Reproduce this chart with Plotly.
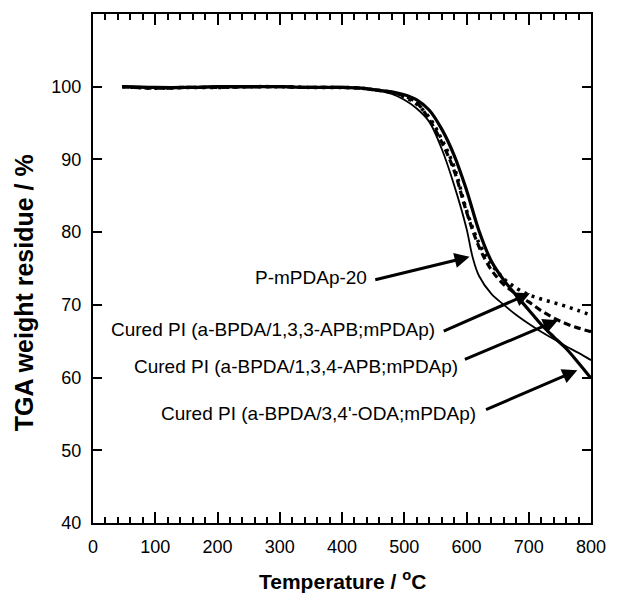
import plotly.graph_objects as go

# TGA weight residue (%) versus temperature (°C) for four polyimide samples
temp_p_mpdap = [47, 100, 150, 200, 250, 300, 350, 400, 430, 450, 480, 500, 520, 540, 560, 580, 600, 610,
                620, 640, 660, 680, 700, 720, 740, 760, 780, 800]
wt_p_mpdap = [100.0, 99.8, 99.8, 99.9, 99.9, 100.0, 99.9, 99.9, 99.8, 99.6, 99.0, 98.2, 97.0, 95.2, 91.5,
              86.5, 80.5, 76.5, 74.0, 71.5, 70.0, 68.6, 67.4, 66.3, 65.3, 64.3, 63.4, 62.4]

temp_133apb = [47, 100, 150, 200, 250, 300, 350, 400, 430, 450, 480, 500, 520, 540, 560, 580, 600, 620,
               640, 660, 680, 700, 720, 740, 760, 780, 800]
wt_133apb = [100.0, 99.8, 99.9, 99.9, 100.0, 100.0, 99.9, 99.9, 99.8, 99.6, 99.2, 98.6, 97.6, 95.8, 92.8,
             89.0, 83.0, 78.5, 75.6, 73.6, 72.3, 71.4, 70.8, 70.3, 69.8, 69.2, 68.6]

temp_134apb = [47, 100, 150, 200, 250, 300, 350, 400, 430, 450, 480, 500, 520, 540, 560, 580, 600, 620,
               640, 660, 680, 700, 720, 740, 760, 780, 800]
wt_134apb = [100.0, 99.8, 99.9, 99.9, 100.0, 100.0, 99.9, 99.9, 99.8, 99.6, 99.2, 98.7, 97.8, 95.5, 92.4,
             88.5, 82.8, 78.0, 74.8, 72.8, 71.5, 70.4, 69.2, 68.2, 67.4, 66.8, 66.3]

temp_oda = [47, 100, 150, 200, 250, 300, 350, 400, 430, 450, 480, 500, 520, 540, 560, 580, 600, 620, 640,
            660, 680, 700, 720, 740, 760, 780, 800]
wt_oda = [100.0, 99.9, 99.9, 100.0, 100.0, 100.0, 99.9, 99.9, 99.8, 99.6, 99.3, 98.9, 98.2, 96.8, 94.2,
          90.6, 85.8, 80.2, 76.0, 73.4, 71.3, 69.3, 67.3, 65.6, 64.0, 62.0, 59.9]

x_ticks = [0, 100, 200, 300, 400, 500, 600, 700, 800]
y_ticks = [40, 50, 60, 70, 80, 90, 100]

# Label text, right end of the text (T, W), and arrow tail -> arrow tip
labels = [
    ("P-mPDAp-20", 443, 73.7, (451, 73.4), (605, 76.6)),
    ("Cured PI (a-BPDA/1,3,3-APB;mPDAp)", 553, 66.6, (561, 66.3), (702, 71.6)),
    ("Cured PI (a-BPDA/1,3,4-APB;mPDAp)", 589, 61.5, (595, 62.4), (747, 67.9)),
    ("Cured PI (a-BPDA/3,4'-ODA;mPDAp)", 619, 55.1, (629, 55.5), (778, 61.0)),
]

FONT = "Liberation Sans, Arial, sans-serif"
X_RANGE = [0, 800]
Y_RANGE = [40, 110]

fig = go.Figure()
fig.add_trace(go.Scatter(x=temp_p_mpdap, y=wt_p_mpdap, mode="lines", line_shape="spline",
                         line=dict(color="black", width=1.8), name="P-mPDAp-20"))
fig.add_trace(go.Scatter(x=temp_133apb, y=wt_133apb, mode="lines", line_shape="spline",
                         line=dict(color="black", width=3.5, dash="3px,5px"), name="1,3,3-APB"))
fig.add_trace(go.Scatter(x=temp_134apb, y=wt_134apb, mode="lines", line_shape="spline",
                         line=dict(color="black", width=3.2, dash="7px,4px"), name="1,3,4-APB"))
fig.add_trace(go.Scatter(x=temp_oda, y=wt_oda, mode="lines", line_shape="spline",
                         line=dict(color="black", width=3.2), name="3,4'-ODA"))

annotations = []
for text, tx, ty, tail, tip in labels:
    annotations.append(dict(x=tx, y=ty, xref="x", yref="y", text=text, showarrow=False,
                            xanchor="right", yanchor="middle",
                            font=dict(family=FONT, size=19, color="black")))
    annotations.append(dict(x=tip[0], y=tip[1], ax=tail[0], ay=tail[1], xref="x", yref="y",
                            axref="x", ayref="y", text="", showarrow=True, arrowhead=2,
                            arrowsize=1.0, arrowwidth=3, arrowcolor="black"))

annotations.append(dict(x=0.5, y=-0.112, xref="paper", yref="paper", showarrow=False,
                        text="<b>Temperature / <sup>o</sup>C</b>", xanchor="center", yanchor="middle",
                        font=dict(family=FONT, size=21, color="black")))
annotations.append(dict(x=-0.138, y=0.452, xref="paper", yref="paper", showarrow=False,
                        text="<b>TGA weight residue / %</b>", textangle=-90,
                        xanchor="center", yanchor="middle",
                        font=dict(family=FONT, size=25, color="black")))

fig.update_layout(
    width=618, height=600,
    margin=dict(l=93, r=16, t=14, b=77),
    plot_bgcolor="white", paper_bgcolor="white",
    showlegend=False,
    annotations=annotations,
    xaxis=dict(range=X_RANGE, tickvals=x_ticks, ticks="inside", ticklen=11, tickwidth=2,
               tickcolor="black", showline=True, linewidth=2, linecolor="black",
               mirror="ticks", showgrid=False, zeroline=False, ticklabelstandoff=6,
               minor=dict(ticks="inside", ticklen=6, tickwidth=2, tickcolor="black",
                          dtick=20, tick0=0, showgrid=False),
               tickfont=dict(family=FONT, size=18, color="black")),
    yaxis=dict(range=Y_RANGE, tickvals=y_ticks, ticks="inside", ticklen=9, tickwidth=2,
               tickcolor="black", showline=True, linewidth=2, linecolor="black",
               mirror="ticks", showgrid=False, zeroline=False, ticklabelstandoff=6,
               tickfont=dict(family=FONT, size=18, color="black")),
)

fig.write_html("out.html")
